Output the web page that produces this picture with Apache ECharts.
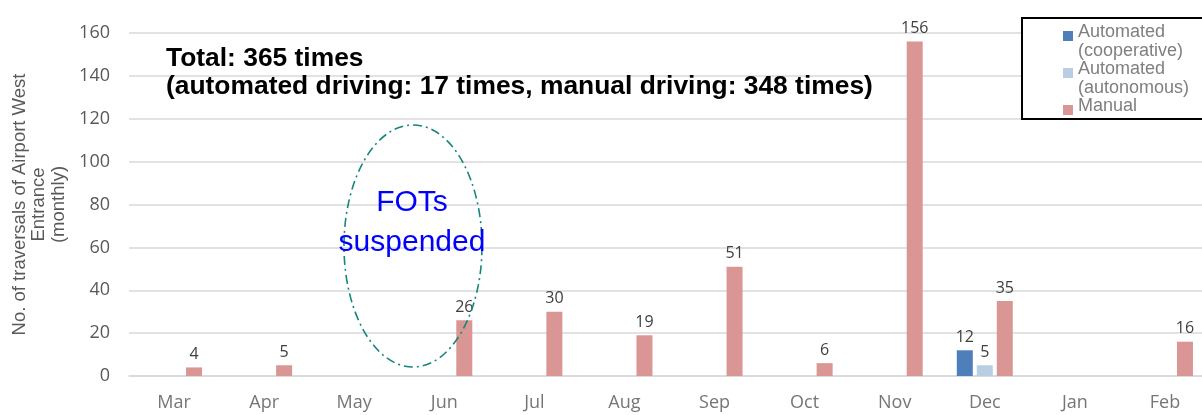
<!DOCTYPE html>
<html style="height: 100%">
<head>
<meta charset="utf-8">
</head>
<body style="height: 100%; margin: 0; background: #fff">
	<div id="container" style="width: 1202px; height: 415px"></div>
	<script type="text/javascript" src="https://cdn.jsdelivr.net/npm/echarts@6/dist/echarts.min.js"></script>
	<script type="text/javascript">
		// monthly traversals, Mar .. Feb
		var months = ['Mar', 'Apr', 'May', 'Jun', 'Jul', 'Aug', 'Sep', 'Oct', 'Nov', 'Dec', 'Jan', 'Feb'];
		var cooperative = ['-', '-', '-', '-', '-', '-', '-', '-', '-', 12, '-', '-'];
		var autonomous = ['-', '-', '-', '-', '-', '-', '-', '-', '-', 5, '-', '-'];
		var manual = [4, 5, '-', 26, 30, 19, 51, 6, 156, 35, '-', 16];
		var yMin = 0, yMax = 160, yStep = 20;

		var legendText = {
			'Automated (cooperative)': 'Automated\n(cooperative)',
			'Automated (autonomous)': 'Automated\n(autonomous)',
			'Manual': 'Manual\n '
		};

		var dom = document.getElementById("container");
		var myChart = echarts.init(dom, null, {renderer: 'canvas'});

		var tickFont = '"Open Sans", sans-serif';
		var labelStyle = {
			show: true,
			position: 'top',
			distance: 5,
			color: '#404040',
			fontSize: 16,
			fontFamily: tickFont
		};

		function barSeries(name, data, color) {
			return {
				name: name,
				type: 'bar',
				data: data,
				barWidth: 16,
				barGap: '25%',
				itemStyle: {color: color},
				label: labelStyle
			};
		}

		var option = {
			animation: false,
			// plot area runs a little past the right edge of the picture
			grid: {left: 129, width: 1081, top: 33, bottom: 39, outerBoundsMode: 'none'},
			xAxis: {
				type: 'category',
				data: months,
				axisTick: {show: false},
				axisLine: {lineStyle: {color: '#d9d9d9', width: 1.5}},
				axisLabel: {color: '#767676', fontSize: 18, fontFamily: tickFont, margin: 18}
			},
			yAxis: {
				type: 'value',
				min: yMin,
				max: yMax,
				interval: yStep,
				name: 'No. of traversals of Airport West\nEntrance\n(monthly)',
				nameLocation: 'middle',
				nameRotate: 90,
				nameGap: 59,
				nameTextStyle: {
					color: '#595959',
					fontSize: 18.5,
					lineHeight: 19.5,
					fontFamily: '"Liberation Sans", Arial, sans-serif',
					align: 'center'
				},
				axisLine: {show: false},
				axisTick: {show: false},
				axisLabel: {color: '#595959', fontSize: 18, fontFamily: tickFont, margin: 19},
				splitLine: {lineStyle: {color: '#d9d9d9', width: 1.5}}
			},
			legend: {
				orient: 'vertical',
				left: 1063,
				top: 23,
				padding: 0,
				itemGap: 0,
				itemWidth: 10,
				itemHeight: 37,
				icon: 'path://M0,0M0,8H10V18H0ZM0,37',
				z: 6,
				formatter: function (name) { return legendText[name]; },
				textStyle: {
					color: '#7f7f7f',
					fontSize: 18,
					lineHeight: 18.5,
					fontFamily: '"Liberation Sans", Arial, sans-serif'
				}
			},
			graphic: [
				{
					type: 'rect',
					z: 5,
					shape: {x: 1022, y: 18, width: 200, height: 101},
					style: {fill: '#fff', stroke: '#000', lineWidth: 2}
				},
				{
					type: 'text',
					z: 10,
					x: 166, y: 59,
					style: {
						text: 'Total: 365 times',
						font: 'bold 26.4px "Liberation Sans", Arial, sans-serif',
						fill: '#000',
						verticalAlign: 'middle'
					}
				},
				{
					type: 'text',
					z: 10,
					x: 166, y: 87,
					style: {
						text: '(automated driving: 17 times, manual driving: 348 times)',
						font: 'bold 26.4px "Liberation Sans", Arial, sans-serif',
						fill: '#000',
						verticalAlign: 'middle'
					}
				},
				{
					type: 'ellipse',
					z: 10,
					shape: {cx: 413, cy: 246, rx: 69, ry: 121},
					style: {fill: 'none', stroke: '#15867c', lineWidth: 1.6, lineDash: [9, 4, 2, 4]}
				},
				{
					type: 'text',
					z: 10,
					x: 412, y: 203,
					style: {
						text: 'FOTs',
						font: '30px "Liberation Sans", Arial, sans-serif',
						fill: '#0000ff',
						align: 'center',
						verticalAlign: 'middle'
					}
				},
				{
					type: 'text',
					z: 10,
					x: 412, y: 243,
					style: {
						text: 'suspended',
						font: '30px "Liberation Sans", Arial, sans-serif',
						fill: '#0000ff',
						align: 'center',
						verticalAlign: 'middle'
					}
				}
			],
			series: [
				barSeries('Automated (cooperative)', cooperative, '#4f7fbb'),
				barSeries('Automated (autonomous)', autonomous, '#b9cde5'),
				barSeries('Manual', manual, '#d99694')
			]
		};

		if (option && typeof option === "object") {
			myChart.setOption(option, true);
		}
	</script>
</body>
</html>
